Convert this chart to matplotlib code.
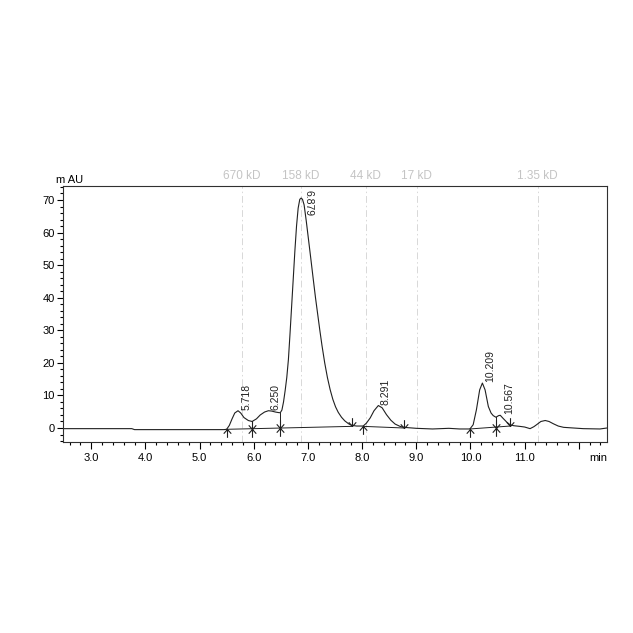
import matplotlib
matplotlib.use("Agg")
import matplotlib.pyplot as plt
from matplotlib.path import Path
from matplotlib.ticker import MultipleLocator, FixedLocator, FuncFormatter

plt.rcParams['font.family'] = ['Liberation Sans', 'DejaVu Sans']

# chromatogram trace (min, mAU)
time = [2.48, 3.75, 3.80, 5.45, 5.50, 5.55, 5.60, 5.65, 5.71, 5.76, 5.82, 5.90, 5.97,
        6.05, 6.12, 6.20, 6.27, 6.33, 6.40, 6.47, 6.49, 6.52, 6.55, 6.58, 6.61, 6.64,
        6.67, 6.70, 6.73, 6.76, 6.79, 6.82, 6.85, 6.875, 6.90, 6.93, 6.97, 7.01, 7.05,
        7.10, 7.14, 7.18, 7.22, 7.26, 7.31, 7.36, 7.41, 7.46, 7.51, 7.56, 7.62, 7.68,
        7.75, 7.81, 7.90, 8.02, 8.08, 8.15, 8.22, 8.30, 8.37, 8.45, 8.53,
        8.61, 8.70, 8.77, 9.00, 9.30, 9.60, 9.80, 9.99, 10.05, 10.11, 10.17, 10.22,
        10.27, 10.33, 10.38, 10.42, 10.47, 10.52, 10.55, 10.60, 10.67, 10.73, 10.80,
        10.91, 11.00, 11.10, 11.17, 11.22, 11.30, 11.38, 11.45, 11.53, 11.62, 11.72,
        11.90, 12.08, 12.39, 12.52]
signal = [-0.2, -0.2, -0.5, -0.5, -0.4, 0.8, 2.8, 4.6, 5.3, 4.6, 3.2, 2.3, 2.0,
          2.8, 4.0, 4.9, 5.3, 5.2, 4.9, 4.7, 4.7, 5.5, 8.0, 11.5, 15.5, 21.0,
          29.0, 37.5, 46.0, 54.5, 62.0, 67.5, 70.2, 70.6, 70.2, 68.5, 63.5, 58.0, 52.5,
          45.5, 40.0, 35.0, 30.0, 25.3, 20.0, 15.5, 11.8, 8.8, 6.5, 4.8, 3.3, 2.2,
          1.3, 0.8, 0.6, 0.6, 1.5, 3.1, 5.3, 6.9, 6.2, 4.1, 2.4,
          1.2, 0.5, 0.2, -0.1, -0.3, -0.1, -0.3, -0.3, 1.0, 5.6, 11.7, 13.8,
          11.7, 6.6, 4.6, 3.8, 3.3, 3.8, 3.9, 3.0, 1.8, 1.0, 0.7,
          0.5, 0.3, -0.2, 0.4, 1.0, 2.0, 2.3, 2.0, 1.3, 0.6, 0.2,
          0.0, -0.2, -0.3, 0.0]

# integrated peaks
peak_rt = [5.718, 6.250, 6.879, 8.291, 10.209, 10.567]
peak_height = [5.3, 5.3, 70.6, 6.9, 13.8, 3.9]

# integration baselines (start, end)
base_t = [(5.50, 7.81), (8.02, 8.77), (9.99, 10.73)]
base_y = [(-0.4, 0.5), (0.5, 0.0), (-0.3, 0.6)]

# drop lines between fused peaks
drop_t = [5.97, 6.49, 10.47]
drop_top = [2.0, 4.7, 3.3]
drop_bottom = [-0.2, 0.0, 0.0]

# event marks
start_t = [5.50, 8.02, 9.99]
start_y = [-0.4, 0.5, -0.3]
end_t = [7.81, 8.77, 10.73]
end_y = [0.5, 0.0, 0.6]
both_t = [5.97, 6.49, 10.47]
both_y = [-0.2, 0.0, 0.0]

# molecular weight markers
mw_t = [5.78, 6.87, 8.07, 9.01, 11.24]
mw_label = ['670 kD', '158 kD', '44 kD', '17 kD', '1.35 kD']

fig = plt.figure(figsize=(6.33, 6.33), dpi=100)
ax = fig.add_axes([63 / 633, 1 - 442 / 633, 544 / 633, 256 / 633])
ax.set_xlim(2.48, 12.52)
ax.set_ylim(-4.3, 74.3)

for t, lab in zip(mw_t, mw_label):
    ax.axvline(t, color='#d8d8d8', lw=0.7, ls=(0, (7, 3, 1.5, 3)), zorder=0)
    ax.annotate(lab, (t, 1), xycoords=('data', 'axes fraction'), xytext=(0, 4),
                textcoords='offset pixels', ha='center', va='bottom',
                fontsize=8.5, color='#c4c4c4')

ax.plot(time, signal, color='#202020', lw=0.8)

for (t0, t1), (y0, y1) in zip(base_t, base_y):
    ax.plot([t0, t1], [y0, y1], color='#202020', lw=0.7)
for t, y0, y1 in zip(drop_t, drop_bottom, drop_top):
    ax.plot([t, t], [y0, y1], color='#202020', lw=0.7)

up = Path([(0, 0), (0, -1), (-0.45, -0.5), (0, 0), (0.45, -0.5)],
          [Path.MOVETO, Path.LINETO, Path.MOVETO, Path.LINETO, Path.LINETO])
down = Path([(0, 0), (0, 1), (-0.45, 0.5), (0, 0), (0.45, 0.5)],
            [Path.MOVETO, Path.LINETO, Path.MOVETO, Path.LINETO, Path.LINETO])
both = Path([(0, -1), (0, 1), (-0.45, -0.5), (0, 0), (0.45, -0.5),
             (-0.45, 0.5), (0, 0), (0.45, 0.5)],
            [Path.MOVETO, Path.LINETO, Path.MOVETO, Path.LINETO, Path.LINETO,
             Path.MOVETO, Path.LINETO, Path.LINETO])
mk = dict(ls='none', ms=12, mfc='none', mec='#202020', mew=0.8)
ax.plot(start_t, start_y, marker=up, **mk)
ax.plot(end_t, end_y, marker=down, **mk)
ax.plot(both_t, both_y, marker=both, **mk)

for rt, h in zip(peak_rt, peak_height):
    if h > 60:
        ax.annotate(f'{rt:.3f}', (rt, 73.2), xytext=(2, 0), textcoords='offset pixels',
                    rotation=270, ha='left', va='top', fontsize=7.5, color='#202020')
    else:
        ax.annotate(f'{rt:.3f}', (rt, h), xytext=(3, 1), textcoords='offset pixels',
                    rotation=90, ha='left', va='bottom', fontsize=7.5, color='#202020')

ax.xaxis.set_major_locator(FixedLocator([3, 4, 5, 6, 7, 8, 9, 10, 11, 12]))
ax.xaxis.set_minor_locator(MultipleLocator(0.2))
ax.xaxis.set_major_formatter(FuncFormatter(lambda v, p: '' if v > 11.5 else f'{v:.1f}'))
ax.yaxis.set_major_locator(MultipleLocator(10))
ax.yaxis.set_minor_locator(MultipleLocator(2))
ax.tick_params(axis='x', which='major', length=5, width=0.8, pad=3, labelsize=8)
ax.tick_params(axis='x', which='minor', length=2.5, width=0.8)
ax.tick_params(axis='y', which='major', length=4, width=0.8, pad=2, labelsize=8)
ax.tick_params(axis='y', which='minor', length=2.5, width=0.8)
for s in ax.spines.values():
    s.set_linewidth(0.8)
    s.set_color('#303030')

ax.annotate('min', (1, 0), xycoords='axes fraction', xytext=(0, -8),
            textcoords='offset points', ha='right', va='top', fontsize=8)
ax.annotate('m AU', (0, 1), xycoords='axes fraction', xytext=(-7, 1),
            textcoords='offset pixels', ha='left', va='bottom', fontsize=8)

fig.savefig('out.png', dpi=100, facecolor='white')
